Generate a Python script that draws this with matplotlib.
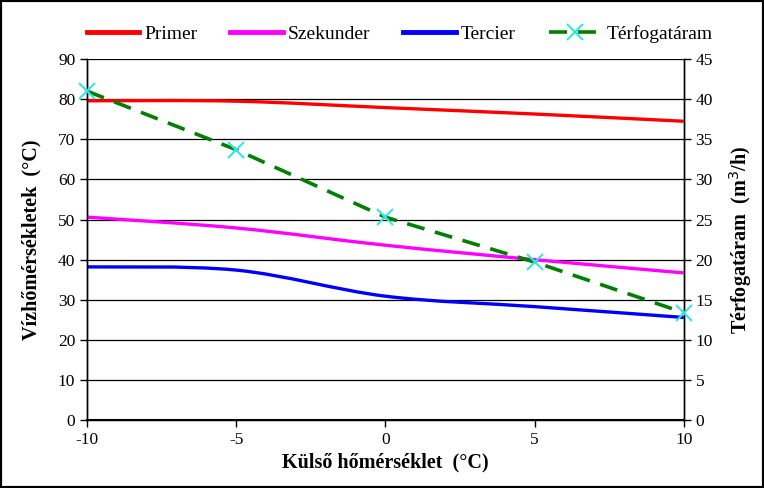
import numpy as np
import matplotlib
matplotlib.use("Agg")
import matplotlib.pyplot as plt
from matplotlib.path import Path
from matplotlib.patches import PathPatch
from matplotlib.lines import Line2D

plt.rcParams['font.family'] = ['Liberation Serif', 'DejaVu Serif']
plt.rcParams['axes.unicode_minus'] = False

# data
kulso = [-10, -5, 0, 5, 10]
primer = [79.6, 79.5, 77.9, 76.3, 74.5]
szekunder = [50.6, 47.9, 43.6, 40.0, 36.7]
tercier = [38.2, 37.4, 30.9, 28.3, 25.6]
terfogataram = [41.0, 33.7, 25.3, 19.7, 13.4]


def smooth_path(xs, ys):
    # Excel-like smoothed line: cubic Bezier segments through the points
    pts = np.column_stack([xs, ys]).astype(float)
    n = len(pts)
    verts = [pts[0]]
    codes = [Path.MOVETO]
    for i in range(n - 1):
        p0 = pts[max(i - 1, 0)]
        p1 = pts[i]
        p2 = pts[i + 1]
        p3 = pts[min(i + 2, n - 1)]
        c1 = p1 + (p2 - p0) / 6.0
        c2 = p2 - (p3 - p1) / 6.0
        verts += [c1, c2, p2]
        codes += [Path.CURVE4] * 3
    return Path(verts, codes)


fig = plt.figure(figsize=(7.64, 4.88), dpi=100)
ax = fig.add_axes([0.114, 0.139, 0.781, 0.740])
ax2 = ax.twinx()

series = [(primer, '#ff0000', 'Primer'),
          (szekunder, '#ff00ff', 'Szekunder'),
          (tercier, '#0000ff', 'Tercier')]
handles = []
for ys, col, name in series:
    ax.add_patch(PathPatch(smooth_path(kulso, ys), facecolor='none',
                           edgecolor=col, lw=2.4, zorder=3))
    handles.append(Line2D([], [], color=col, lw=3.5, label=name))

h, = ax2.plot(kulso, terfogataram, color='#008000', lw=2.6, ls=(0, (5, 3)),
              marker='x', ms=11, mec='#33e6e6', mew=1.5, label='Térfogatáram',
              clip_on=False, zorder=4)
handles.append(h)

ax.set_xlim(-10, 10)
ax.set_ylim(0, 90)
ax2.set_ylim(0, 45)
ax.set_xticks(np.arange(-10, 11, 5))
ax.set_yticks(np.arange(0, 91, 10))
ax2.set_yticks(np.arange(0, 46, 5))
ax.grid(axis='y', color='black', lw=0.9)
ax.set_axisbelow(True)

for a in (ax, ax2):
    a.tick_params(direction='out', length=5, width=1, labelsize=12.5, colors='black')
    for s in a.spines.values():
        s.set_linewidth(1)
ax.spines['top'].set_visible(False)
ax2.spines['top'].set_visible(False)
ax.spines['bottom'].set_linewidth(1.5)

ax.set_xlabel('Külső hőmérséklet  (°C)', fontsize=14.5, fontweight='bold', labelpad=3)
ax.set_ylabel('Vízhőmérsékletek  (°C)', fontsize=14.5, fontweight='bold', labelpad=12)
ax2.set_ylabel('Térfogatáram  (m$^3$/h)', fontsize=14.5, fontweight='bold', labelpad=10)

fig.legend(handles=handles, loc='upper center', bbox_to_anchor=(0.523, 0.985),
           ncol=4, frameon=False, fontsize=14, handlelength=2.7,
           columnspacing=1.7, handletextpad=0.26)

fig.patches.append(plt.Rectangle((0, 0), 1, 1, transform=fig.transFigure,
                                 fill=False, edgecolor='black', lw=3))

fig.savefig('out.png', dpi=100)
